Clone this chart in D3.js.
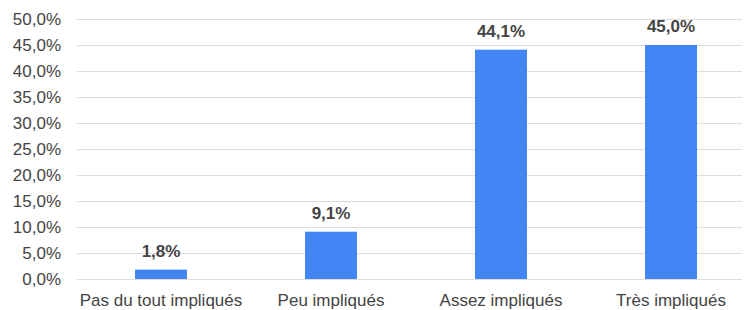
<!DOCTYPE html>
<html>
<head>
<meta charset="utf-8">
<script src="https://cdn.jsdelivr.net/npm/d3@7"></script>
<style>
  body { margin: 0; background: #fff; }
  text { font-family: "Liberation Sans", Arial, sans-serif; fill: #444; }
</style>
</head>
<body>
<div id="chart"></div>
<script>
// data
var categories = ["Pas du tout impliqués", "Peu impliqués", "Assez impliqués", "Très impliqués"];
var values = [1.8, 9.1, 44.1, 45.0];
var yTicks = [0, 5, 10, 15, 20, 25, 30, 35, 40, 45, 50];

var width = 745;
var height = 310;

var svg = d3.select("#chart")
    .append("svg")
    .attr("width", width)
    .attr("height", height);

var x = d3.scaleBand()
    .domain(categories)
    .range([76, 756]);

var y = d3.scaleLinear()
    .domain([0, 50])
    .range([279, 19]);

var fmt = function(v) { return v.toFixed(1).replace(".", ",") + "%"; };

// gridlines
svg.append("g")
    .selectAll("line")
    .data(yTicks)
    .enter()
    .append("line")
    .attr("x1", 77)
    .attr("x2", 742)
    .attr("y1", function(d) { return y(d) + 0.5; })
    .attr("y2", function(d) { return y(d) + 0.5; })
    .attr("stroke", "#dcdcdc")
    .attr("stroke-width", 1);

// y tick labels
svg.append("g")
    .selectAll("text")
    .data(yTicks)
    .enter()
    .append("text")
    .attr("x", 61)
    .attr("y", function(d) { return y(d) + 6; })
    .attr("text-anchor", "end")
    .style("font-size", "17px")
    .text(fmt);

// bars
var barW = 52;
svg.append("g")
    .selectAll("rect")
    .data(values)
    .enter()
    .append("rect")
    .attr("x", function(d, i) { return x(categories[i]) + (x.bandwidth() - barW) / 2; })
    .attr("y", function(d) { return y(d); })
    .attr("width", barW)
    .attr("height", function(d) { return y(0) - y(d); })
    .attr("fill", "#4285f4");

// value labels
svg.append("g")
    .selectAll("text")
    .data(values)
    .enter()
    .append("text")
    .attr("x", function(d, i) { return x(categories[i]) + x.bandwidth() / 2; })
    .attr("y", function(d) { return y(d) - 13; })
    .attr("text-anchor", "middle")
    .style("font-size", "17px")
    .style("font-weight", "bold")
    .text(fmt);

// category labels
svg.append("g")
    .selectAll("text")
    .data(categories)
    .enter()
    .append("text")
    .attr("x", function(d) { return x(d) + x.bandwidth() / 2; })
    .attr("y", 306)
    .attr("text-anchor", "middle")
    .style("font-size", "17px")
    .text(function(d) { return d; });
</script>
</body>
</html>
